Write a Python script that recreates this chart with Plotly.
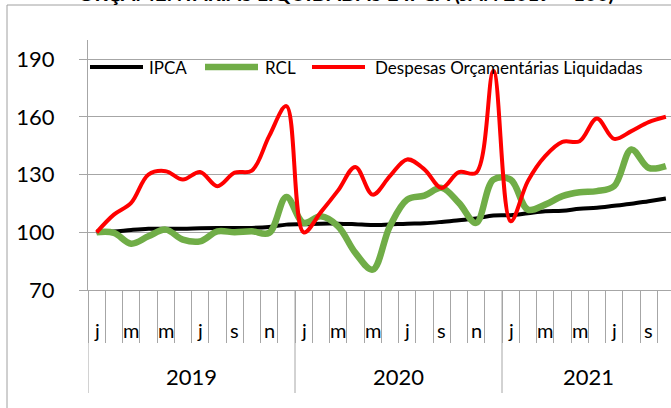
import plotly.graph_objects as go

# ---- data ----
months = ["jan/19", "fev/19", "mar/19", "abr/19", "mai/19", "jun/19", "jul/19", "ago/19", "set/19", "out/19", "nov/19", "dez/19",
          "jan/20", "fev/20", "mar/20", "abr/20", "mai/20", "jun/20", "jul/20", "ago/20", "set/20", "out/20", "nov/20", "dez/20",
          "jan/21", "fev/21", "mar/21", "abr/21", "mai/21", "jun/21", "jul/21", "ago/21", "set/21", "out/21"]
month_labels = ["j", "", "m", "", "m", "", "j", "", "s", "", "n", "",
                "j", "", "m", "", "m", "", "j", "", "s", "", "n", "",
                "j", "", "m", "", "m", "", "j", "", "s", ""]
years = ["2019", "2020", "2021"]
year_start = [0, 12, 24]
year_len = [12, 12, 10]

ipca = [100.0, 100.4, 101.2, 101.8, 101.9, 101.9, 102.1, 102.2, 102.2, 102.3, 102.8, 104.0,
        104.2, 104.5, 104.5, 104.2, 103.8, 104.1, 104.5, 104.7, 105.4, 106.3, 107.2, 108.7,
        108.9, 109.9, 110.9, 111.2, 112.2, 112.8, 113.8, 114.8, 116.2, 117.6]
rcl = [100.0, 99.7, 94.1, 97.9, 101.4, 96.2, 95.3, 100.5, 100.0, 100.5, 99.7, 118.4,
       104.9, 108.3, 103.1, 89.3, 80.6, 103.1, 117.0, 119.1, 123.1, 115.3, 104.9, 127.4,
       127.4, 111.8, 114.4, 118.8, 120.8, 121.4, 124.0, 143.1, 133.5, 134.4]
despesas = [100.0, 109.2, 115.3, 130.0, 131.8, 127.4, 131.4, 124.0, 131.0, 132.1, 150.0, 165.6,
            100.0, 110.5, 121.8, 134.0, 119.6, 129.2, 137.9, 132.7, 123.1, 131.3, 131.0, 184.0,
            105.7, 126.6, 139.6, 147.0, 147.4, 159.2, 148.6, 152.6, 157.3, 160.1]

series = [("IPCA", ipca, "#000000", 4), ("RCL", rcl, "#70ad47", 6.5), ("Despesas Orçamentárias Liquidadas", despesas, "#ff0000", 4)]
x_idx = list(range(len(months)))

W, H = 671, 408
ML, MR, MT, MB = 88, 0, 40, 118
PW, PH = W - ML - MR, H - MT - MB

def px_x(p):
    return (p - ML) / PW

def px_y(p):
    return (H - MB - p) / PH

fig = go.Figure()
for name, vals, color, width in series:
    fig.add_trace(go.Scatter(x=x_idx, y=vals, name=name, mode="lines",
                             line=dict(color=color, width=width, shape="spline", smoothing=1.0),
                             hovertext=months, showlegend=False))

annotations = []
shapes = []
font_family = "Lato"

# month labels
for i, lab in enumerate(month_labels):
    if lab:
        annotations.append(dict(x=i, y=px_y(330), xref="x", yref="paper", text=lab, showarrow=False,
                                font=dict(size=20, color="#000000", family=font_family),
                                xanchor="center", yanchor="middle"))
# year labels & separators
for y, s, n in zip(years, year_start, year_len):
    annotations.append(dict(x=s + (n - 1) / 2, y=px_y(377), xref="x", yref="paper", text=y, showarrow=False,
                            font=dict(size=22, color="#000000", family=font_family),
                            xanchor="center", yanchor="middle"))
    shapes.append(dict(type="line", xref="x", yref="paper", x0=s - 0.5, x1=s - 0.5, y0=0, y1=px_y(393),
                       line=dict(color="#a6a6a6", width=1)))

# legend (manual)
leg_y = px_y(67)
leg_items = [(90, 143, 147), (205, 258, 263), (312, 365, 373)]
for (name, vals, color, width), (a, b, t) in zip(series, leg_items):
    shapes.append(dict(type="line", xref="paper", yref="paper", x0=px_x(a), x1=px_x(b), y0=leg_y, y1=leg_y,
                       line=dict(color=color, width=width)))
    annotations.append(dict(x=px_x(t), y=leg_y, xref="paper", yref="paper", text=name, showarrow=False,
                            font=dict(size=17, color="#000000", family=font_family),
                            xanchor="left", yanchor="middle"))

# title (cut off at the top, as in the reference)
annotations.append(dict(x=px_x(346), y=px_y(7), xref="paper", yref="paper",
                        text="<b>ORÇAMENTÁRIAS LIQUIDADAS E IPCA (JAN 2019 = 100)</b>", showarrow=False,
                        font=dict(size=20.5, color="#000000", family=font_family),
                        xanchor="center", yanchor="bottom"))

# chart border (left + top)
shapes.append(dict(type="line", xref="paper", yref="paper", x0=px_x(7), x1=px_x(7), y0=px_y(5), y1=px_y(420),
                   line=dict(color="#a0a0a0", width=1)))
shapes.append(dict(type="line", xref="paper", yref="paper", x0=px_x(7), x1=px_x(700), y0=px_y(5), y1=px_y(5),
                   line=dict(color="#a0a0a0", width=1)))

fig.update_layout(
    width=W, height=H,
    margin=dict(l=ML, r=MR, t=MT, b=MB),
    paper_bgcolor="#ffffff", plot_bgcolor="#ffffff",
    font=dict(family=font_family, color="#000000"),
    annotations=annotations, shapes=shapes,
    showlegend=False,
    xaxis=dict(range=[-0.5, -0.5 + PW / 17.25], tickmode="array",
               tickvals=[i - 0.5 for i in range(len(months) + 1)], ticktext=[""] * (len(months) + 1),
               ticks="outside", ticklen=52, tickcolor="#a6a6a6", tickwidth=1,
               showline=True, linecolor="#a6a6a6", linewidth=1, showgrid=False, zeroline=False),
    yaxis=dict(range=[70, 200], tickmode="array", tickvals=[70, 100, 130, 160, 190],
               ticks="outside", ticklen=8, tickcolor="#a6a6a6", tickwidth=1,
               showline=True, linecolor="#a6a6a6", linewidth=1,
               showgrid=True, gridcolor="#a6a6a6", gridwidth=1, zeroline=False,
               tickfont=dict(size=22, color="#000000", family=font_family), ticklabelstandoff=20),
)

fig.write_html("out.html", config={"displayModeBar": False},
               post_script="document.body.style.margin='0';document.body.style.overflow='hidden';")
